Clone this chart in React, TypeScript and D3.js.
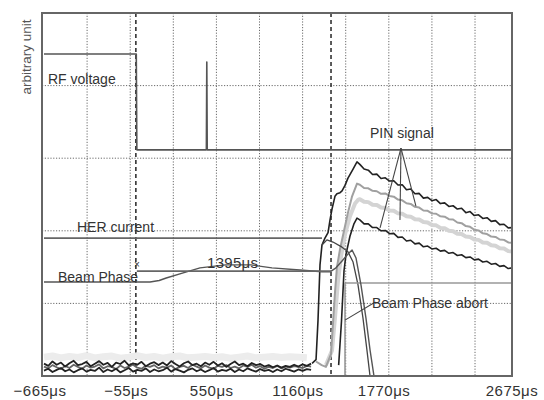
import React from "react";
import * as d3 from "d3";

// ---------- data (time in µs, level in arbitrary units: 0..10, 2 per division) ----------
const tickTimes = [-665, -55, 550, 1160, 1770, 2675];
const tickLabels = ["−665μs", "−55μs", "550μs", "1160μs", "1770μs", "2675μs"];
const gridTimes = [-360, -55, 250, 555, 860, 1165, 1470, 1775, 2080, 2385];
const gridLevels = [2, 4, 6, 8];
const markerTimes = [-15, 1366];

const rfVoltage: [number, number][] = [
  [-665, 8.87], [-12, 8.87], [-8, 6.23], [484, 6.23], [487, 8.65], [490, 6.23], [2650, 6.23],
];
const herCurrent: [number, number][] = [[-665, 3.8], [1302, 3.8]];
const phaseSpan: [number, number][] = [[-8, 2.89], [1366, 2.89]];
const beamPhase: [number, number][] = [
  [-665, 2.59], [85, 2.59], [150, 2.63], [200, 2.70], [320, 2.84], [439, 2.98], [620, 3.06],
  [800, 3.06], [948, 2.98], [1146, 2.92], [1302, 2.87], [1359, 2.87], [1401, 2.98],
  [1444, 3.17], [1486, 3.36], [1515, 3.47], [1543, 3.25], [1578, 2.51], [1613, 1.60],
  [1642, 0.72], [1670, 0.0],
];
const abortSignal: [number, number][] = [[1465, 0], [1465, 2.56], [2650, 2.56]];
const arcTrace: [number, number][] = [
  [1302, 3.61], [1337, 3.75], [1380, 3.69], [1444, 3.55], [1486, 3.42], [1522, 3.14],
  [1557, 2.51], [1592, 1.6], [1620, 0.72], [1642, 0.0],
];

const noiseT0 = -665;
const noiseStep = 30;
const noiseA = [0.34,0.28,0.40,0.31,0.37,0.26,0.35,0.42,0.30,0.33,0.39,0.27,0.34,0.41,0.31,0.36,0.25,0.37,0.33,0.42,0.29,0.35,0.31,0.39,0.27,0.34,0.38,0.30,0.37,0.29,0.41,0.33,0.26,0.35,0.40,0.30,0.34,0.27,0.37,0.31,0.39,0.29,0.35,0.25,0.33,0.40,0.30,0.34,0.27,0.36,0.30,0.33,0.26,0.30,0.24,0.29,0.23,0.28,0.25,0.31,0.26,0.32,0.28,0.34];
const noiseB = [0.15,0.20,0.11,0.17,0.22,0.13,0.18,0.10,0.16,0.21,0.12,0.17,0.14,0.23,0.11,0.18,0.13,0.20,0.10,0.16,0.22,0.12,0.17,0.14,0.21,0.11,0.18,0.13,0.16,0.23,0.12,0.19,0.15,0.10,0.17,0.21,0.13,0.18,0.11,0.16,0.22,0.12,0.17,0.14,0.20,0.11,0.18,0.13,0.21,0.16,0.12,0.19,0.14,0.17,0.11,0.18,0.13,0.20,0.16,0.12,0.18,0.14,0.19,0.17];
const noiseC = [0.26,0.21,0.30,0.24,0.19,0.28,0.22,0.31,0.25,0.20,0.29,0.23,0.26,0.32,0.21,0.27,0.25,0.19,0.29,0.22,0.26,0.31,0.23,0.20,0.28,0.25,0.30,0.21,0.26,0.23,0.29,0.19,0.25,0.28,0.22,0.31,0.26,0.21,0.29,0.23,0.20,0.28,0.25,0.30,0.22,0.26,0.21,0.29,0.25,0.31,0.23,0.27,0.20,0.25,0.22,0.28,0.21,0.26,0.23,0.27,0.25,0.22,0.28,0.26];
const hazeStep = 60;
const haze = [0.52,0.55,0.50,0.54,0.51,0.56,0.50,0.53,0.55,0.49,0.52,0.56,0.51,0.54,0.49,0.53,0.55,0.50,0.52,0.54,0.51,0.53,0.49,0.52,0.55,0.50,0.52,0.54,0.51,0.53,0.52,0.50];

const decayT0 = 1570;
const decayStep = 30;
const pinTopRise: [number, number][] = [
  [1232, 0.35], [1260, 0.45], [1274, 1.54], [1288, 3.06], [1302, 3.61], [1323, 3.80],
  [1345, 3.95], [1359, 4.30], [1373, 4.60], [1394, 4.95], [1408, 5.02], [1430, 5.05],
  [1444, 5.10], [1465, 5.25], [1486, 5.45], [1500, 5.55], [1522, 5.70], [1543, 5.85], [1550, 5.90],
];
const pinTopDecay = [5.83,5.70,5.67,5.55,5.56,5.44,5.46,5.37,5.38,5.26,5.27,5.13,5.15,5.02,5.03,4.90,4.92,4.83,4.86,4.75,4.77,4.67,4.69,4.60,4.62,4.50,4.53,4.42,4.44,4.34,4.36,4.26,4.28,4.17,4.18,4.08,4.09];
const pinGrayRise: [number, number][] = [
  [1260, 0.40], [1300, 0.30], [1330, 0.25], [1366, 0.60], [1380, 1.45], [1394, 2.30],
  [1408, 3.00], [1430, 3.50], [1458, 4.00], [1486, 4.50], [1515, 4.95], [1550, 5.30],
];
const pinGrayDecay = [5.27,5.18,5.17,5.10,5.09,5.02,5.03,4.96,4.94,4.86,4.84,4.76,4.74,4.66,4.64,4.56,4.55,4.48,4.47,4.40,4.39,4.32,4.31,4.23,4.21,4.13,4.11,4.03,4.01,3.93,3.91,3.84,3.83,3.76,3.75,3.68,3.67];
const pinPaleRise: [number, number][] = [
  [1330, 0.30], [1373, 0.70], [1394, 1.60], [1415, 2.60], [1437, 3.30], [1465, 3.90],
  [1500, 4.40], [1536, 4.75], [1557, 4.85],
];
const pinPaleDecay = [4.87,4.80,4.79,4.72,4.71,4.64,4.63,4.56,4.55,4.48,4.47,4.40,4.39,4.32,4.31,4.24,4.23,4.16,4.15,4.08,4.07,4.00,3.99,3.92,3.91,3.84,3.83,3.76,3.75,3.68,3.67,3.60,3.59,3.52,3.51,3.44,3.43];
const pinLowRise: [number, number][] = [
  [1420, 0.30], [1440, 1.50], [1458, 2.90], [1472, 3.35], [1500, 3.85], [1529, 4.20], [1550, 4.35],
];
const pinLowDecay = [4.30,4.19,4.19,4.09,4.09,4.00,4.01,3.92,3.93,3.82,3.83,3.72,3.74,3.64,3.66,3.56,3.58,3.50,3.52,3.44,3.46,3.38,3.40,3.32,3.34,3.26,3.28,3.20,3.22,3.14,3.16,3.08,3.10,3.02,3.04,2.96,2.98];

const pinApex: [number, number] = [1861, 6.28];
const pinTargets: [number, number][] = [[1713, 4.08], [1854, 4.30], [1967, 4.68]];
const abortPointer: [[number, number], [number, number]] = [[1680, 2.04], [1465, 1.54]];

// ---------- layout ----------
const W = 544;
const H = 400;
const frame = { left: 42, right: 512, top: 13, bottom: 376 };
const x = d3.scaleLinear().domain([-665, 2675]).range([44, 516]);
const y = d3.scaleLinear().domain([0, 10]).range([376, 13]);
const FONT = "'Liberation Sans', Arial, sans-serif";

const seq = (t0: number, step: number, vals: number[]): [number, number][] =>
  vals.map((v, i) => [t0 + i * step, v]);

const line = d3
  .line<[number, number]>()
  .x((d) => x(d[0]))
  .y((d) => y(d[1]));

export default function App() {
  const pinTop = [...pinTopRise, ...seq(decayT0, decayStep, pinTopDecay)];
  const pinGray = [...pinGrayRise, ...seq(decayT0, decayStep, pinGrayDecay)];
  const pinPale = [...pinPaleRise, ...seq(decayT0, decayStep, pinPaleDecay)];
  const pinLow = [...pinLowRise, ...seq(decayT0, decayStep, pinLowDecay)];

  return (
    <svg
      width={W}
      height={H}
      style={{ position: "absolute", left: 0, top: 0, background: "#fff" }}
      fontFamily={FONT}
    >
      <defs>
        <clipPath id="plotClip">
          <rect x={frame.left} y={frame.top} width={frame.right - frame.left} height={frame.bottom - frame.top} />
        </clipPath>
      </defs>
      <rect x={0} y={0} width={W} height={H} fill="#fff" />

      {/* grid */}
      <g stroke="#6a6a6a" strokeWidth={1} strokeDasharray="1.2 1.6">
        {gridTimes.map((t) => (
          <line key={"gx" + t} x1={x(t)} x2={x(t)} y1={frame.top} y2={frame.bottom} />
        ))}
        {gridLevels.map((l) => (
          <line key={"gy" + l} x1={frame.left} x2={frame.right} y1={y(l)} y2={y(l)} />
        ))}
      </g>
      <g stroke="#333" strokeWidth={1.6} strokeDasharray="4 3">
        {markerTimes.map((t) => (
          <line key={"m" + t} x1={x(t)} x2={x(t)} y1={frame.top} y2={frame.bottom} />
        ))}
      </g>

      <g clipPath="url(#plotClip)" fill="none" strokeLinejoin="round">
        {/* faint haze above noise floor */}
        <path d={line(seq(noiseT0, hazeStep, haze)) || ""} stroke="#ececec" strokeWidth={7} />
        <path d={line(seq(noiseT0, noiseStep, noiseC)) || ""} stroke="#666" strokeWidth={1.8} />
        <path d={line(seq(noiseT0, noiseStep, noiseA)) || ""} stroke="#222" strokeWidth={1.8} />
        <path d={line(seq(noiseT0, noiseStep, noiseB)) || ""} stroke="#222" strokeWidth={1.8} />

        {/* PIN signals */}
        <path d={line(pinPale) || ""} stroke="#d4d4d4" strokeWidth={4} />
        <path d={line(pinGray) || ""} stroke="#a0a0a0" strokeWidth={2} />
        <path d={line(pinLow) || ""} stroke="#222" strokeWidth={1.6} />
        <path d={line(pinTop) || ""} stroke="#222" strokeWidth={1.6} />
        <path d={line(arcTrace) || ""} stroke="#444" strokeWidth={1.3} />

        {/* other signals */}
        <path d={line(abortSignal) || ""} stroke="#999" strokeWidth={1.6} />
        <path d={line(beamPhase) || ""} stroke="#555" strokeWidth={1.4} />
        <path d={line(phaseSpan) || ""} stroke="#666" strokeWidth={1.6} />
        <path d={line(herCurrent) || ""} stroke="#666" strokeWidth={1.8} />
        <path d={line(rfVoltage) || ""} stroke="#555" strokeWidth={1.6} />
      </g>

      {/* annotation pointers */}
      <g stroke="#444" strokeWidth={1.1} fill="none">
        {pinTargets.map((p, i) => (
          <line key={"pt" + i} x1={x(pinApex[0])} y1={y(pinApex[1])} x2={x(p[0])} y2={y(p[1])} />
        ))}
        <line
          x1={x(abortPointer[0][0])}
          y1={y(abortPointer[0][1])}
          x2={x(abortPointer[1][0])}
          y2={y(abortPointer[1][1])}
        />
      </g>

      {/* labels */}
      <g fill="#333" fontSize={14}>
        <text x={48} y={84}>RF voltage</text>
        <text x={77} y={232}>HER current</text>
        <text x={58} y={282}>Beam Phase</text>
        <text x={370} y={138}>PIN signal</text>
        <text x={372} y={308}>Beam Phase abort</text>
        <text x={207} y={268} fontSize={15} letterSpacing={0.3}>1395μs</text>
        <text x={134} y={268} fontSize={10}>×</text>
      </g>
      <text
        transform="translate(31,57) rotate(-90)"
        textAnchor="middle"
        fontSize={13.5}
        fill="#555"
      >
        arbitrary unit
      </text>

      {/* frame */}
      <rect
        x={frame.left}
        y={frame.top}
        width={frame.right - frame.left}
        height={frame.bottom - frame.top}
        fill="none"
        stroke="#666"
        strokeWidth={2}
      />

      {/* x tick labels */}
      <g fill="#333" fontSize={15} letterSpacing={0.5} textAnchor="middle">
        {tickTimes.map((t, i) => (
          <text key={"tl" + t} x={x(t) - 4} y={396}>
            {tickLabels[i]}
          </text>
        ))}
      </g>
    </svg>
  );
}
